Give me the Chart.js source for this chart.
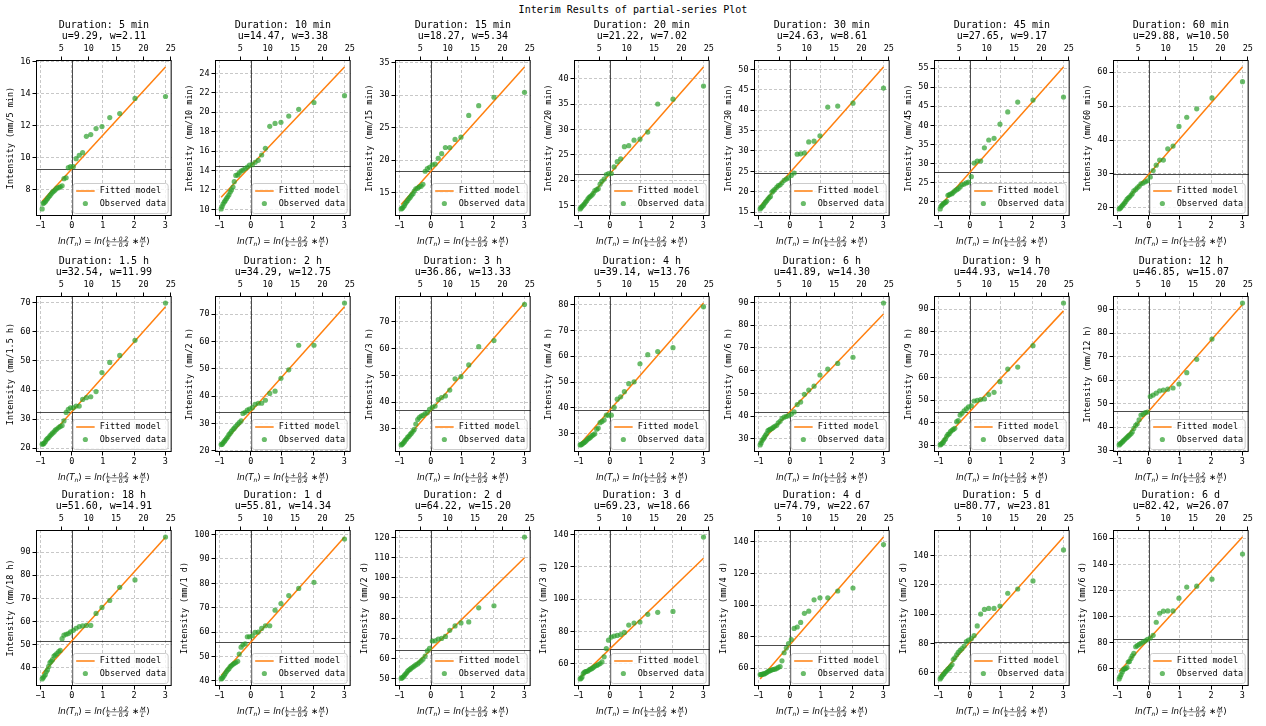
<!DOCTYPE html>
<html>
<head>
<meta charset="utf-8">
<script src="https://cdn.jsdelivr.net/npm/chart.js@4.4.0/dist/chart.umd.min.js"></script>
<style>
  body { margin: 0; background: #fff; }
  #fig { position: relative; width: 1266px; height: 726px; overflow: hidden; }
  #suptitle { position: absolute; left: 0; top: 4px; width: 1266px; line-height: 12px;
              text-align: center; font: 10px "DejaVu Sans Mono"; color: #000; }
  canvas { position: absolute; }
</style>
</head>
<body>
<div id="fig"><div id="suptitle">Interim Results of partial-series Plot</div></div>
<script>
// durations and fitted parameters (from subplot titles)
const durations = ["5 min", "10 min", "15 min", "20 min", "30 min", "45 min", "60 min",
  "1.5 h", "2 h", "3 h", "4 h", "6 h", "9 h", "12 h",
  "18 h", "1 d", "2 d", "3 d", "4 d", "5 d", "6 d"];
const uVals = [9.29, 14.47, 18.27, 21.22, 24.63, 27.65, 29.88, 32.54, 34.29, 36.86, 39.14,
  41.89, 44.93, 46.85, 51.60, 55.81, 64.22, 69.23, 74.79, 80.77, 82.42];
const wVals = [2.11, 3.38, 5.34, 7.02, 8.61, 9.17, 10.50, 11.99, 12.75, 13.33, 13.76,
  14.30, 14.70, 15.07, 14.91, 14.34, 15.20, 18.66, 22.67, 23.81, 26.07];

// tick labels
const xTicks = [-1, 0, 1, 2, 3];
const topTicks = [5, 10, 15, 20, 25];
const topRange = [0.37, 25.15];
const yStep = [2, 2, 5, 5, 5, 5, 10, 10, 10, 10, 10, 10, 10, 10, 10, 10, 10, 20, 20, 20, 20];

// ln(T) of each ranked event (same for every duration)
const xObs = [3.01, 2.03, 1.54, 1.22, 0.97, 0.78, 0.61, 0.47, 0.35, 0.24, 0.14, 0.05, -0.04,
  -0.11, -0.18, -0.25, -0.31, -0.37, -0.42, -0.48, -0.53, -0.57, -0.62, -0.66, -0.70,
  -0.74, -0.78, -0.82, -0.85, -0.89, -0.92, -0.95];

// observed intensities, ranked from largest
const obs5min = [13.81, 13.69, 12.75, 12.5, 11.94, 11.81, 11.44, 11.33, 10.31, 10.15, 9.94, 9.44, 9.44, 9.38, 8.75, 8.69, 8.25, 8.19, 8.13, 8.1, 8.0, 7.92, 7.85, 7.75, 7.65, 7.55, 7.45, 7.35, 7.25, 7.2, 7.15, 6.81];
const obs10min = [21.7, 21.0, 20.3, 19.6, 18.96, 18.85, 18.55, 16.28, 15.6, 15.05, 14.85, 14.6, 14.55, 14.35, 14.2, 14.05, 13.95, 13.75, 13.55, 13.5, 12.85, 12.3, 12.0, 11.8, 11.5, 11.3, 11.1, 10.9, 10.75, 10.55, 10.3, 10.05];
const obs15min = [30.46, 29.7, 28.4, 26.9, 23.55, 23.2, 21.96, 21.96, 21.0, 20.3, 19.4, 19.3, 18.9, 18.7, 18.3, 16.3, 16.0, 15.9, 15.7, 15.6, 15.25, 14.85, 14.6, 14.3, 14.1, 13.8, 13.55, 13.3, 13.0, 12.75, 12.6, 12.5];
const obs20min = [38.6, 36.0, 35.05, 29.5, 28.1, 27.9, 26.8, 26.6, 24.2, 23.65, 22.6, 21.3, 21.3, 21.1, 20.2, 19.75, 19.2, 18.3, 18.1, 17.9, 17.4, 17.05, 16.8, 16.6, 16.3, 15.9, 15.6, 15.25, 15.0, 14.8, 14.55, 14.3];
const obs30min = [45.4, 41.7, 41.0, 40.75, 33.7, 32.4, 32.2, 29.5, 29.3, 29.2, 24.6, 24.0, 23.4, 23.1, 22.8, 22.2, 21.7, 21.5, 21.1, 20.6, 20.2, 19.9, 18.85, 18.6, 18.2, 17.8, 17.45, 17.05, 16.6, 16.3, 16.1, 15.8];
const obs45min = [47.4, 46.6, 46.1, 43.5, 40.3, 36.6, 36.15, 34.1, 30.65, 30.65, 30.1, 26.55, 25.1, 24.9, 24.6, 24.4, 23.85, 23.4, 23.15, 22.8, 22.45, 22.1, 22.0, 21.8, 21.65, 20.1, 19.8, 19.65, 19.4, 19.1, 18.8, 18.1];
const obs60min = [57.2, 52.4, 49.2, 46.7, 44.0, 38.2, 37.4, 34.1, 34.1, 32.6, 31.0, 29.1, 28.0, 27.7, 27.3, 27.1, 26.4, 25.9, 25.4, 25.0, 24.2, 23.7, 23.2, 22.9, 22.5, 21.9, 21.4, 21.0, 20.6, 20.2, 19.9, 19.7];
const obs1_5h = [69.9, 57.1, 51.9, 49.5, 46.0, 39.5, 37.7, 37.4, 36.8, 34.5, 34.5, 33.9, 33.9, 33.4, 32.3, 29.4, 27.8, 27.5, 27.1, 26.6, 26.2, 25.6, 25.2, 24.7, 24.3, 23.7, 23.3, 22.9, 22.2, 21.7, 21.5, 21.4];
const obs2h = [74.0, 58.6, 58.6, 49.6, 46.5, 41.8, 41.0, 38.5, 37.4, 37.4, 37.0, 35.8, 35.3, 34.9, 34.1, 33.7, 31.0, 30.3, 29.7, 29.0, 28.3, 27.8, 27.1, 26.4, 25.9, 25.1, 24.5, 23.9, 23.4, 22.9, 22.4, 22.3];
const obs3h = [76.5, 63.0, 60.7, 53.9, 49.5, 48.7, 44.5, 42.3, 41.7, 40.9, 38.5, 38.0, 37.3, 36.0, 35.7, 35.0, 34.8, 34.2, 33.5, 31.8, 29.8, 29.1, 28.4, 27.9, 27.2, 26.9, 26.2, 25.7, 25.1, 24.6, 24.2, 24.0];
const obs4h = [79.1, 63.3, 61.8, 60.6, 57.1, 50.1, 49.4, 46.3, 44.3, 43.4, 40.2, 37.2, 37.2, 37.2, 35.3, 34.8, 34.3, 32.2, 31.8, 30.0, 29.6, 29.2, 28.7, 28.3, 28.0, 27.5, 27.0, 26.6, 26.4, 26.1, 25.8, 25.7];
const obs6h = [89.7, 65.9, 63.2, 60.7, 58.1, 53.2, 51.5, 49.6, 46.2, 45.1, 41.9, 40.9, 40.3, 39.9, 39.6, 39.0, 37.8, 37.1, 36.0, 35.6, 35.1, 34.6, 34.3, 34.0, 33.7, 32.4, 31.6, 30.7, 30.0, 29.3, 28.2, 27.4];
const obs9h = [92.6, 73.9, 64.5, 63.6, 58.1, 53.4, 52.4, 50.5, 50.2, 49.9, 49.6, 47.5, 47.0, 46.1, 45.3, 44.2, 43.4, 41.0, 40.5, 37.6, 37.1, 36.7, 36.1, 35.2, 34.9, 34.1, 32.9, 32.3, 31.4, 31.0, 30.6, 30.3];
const obs12h = [92.8, 77.5, 68.9, 63.2, 58.4, 56.7, 56.2, 55.8, 55.5, 54.5, 53.7, 53.1, 46.5, 46.2, 45.5, 45.2, 43.2, 41.5, 40.8, 39.5, 38.0, 37.2, 36.7, 36.2, 35.7, 35.2, 34.7, 34.2, 33.7, 33.3, 32.9, 32.5];
const obs18h = [96.5, 78.0, 74.8, 69.1, 66.1, 63.5, 58.3, 58.3, 58.1, 57.8, 57.1, 56.2, 55.5, 54.8, 54.5, 54.1, 52.6, 47.5, 47.0, 46.1, 45.5, 45.1, 43.5, 42.8, 42.2, 40.6, 39.1, 38.3, 37.0, 36.3, 35.7, 35.2];
const obs1d = [98.2, 80.4, 77.9, 75.0, 71.7, 69.0, 62.6, 62.6, 61.5, 60.0, 59.9, 58.5, 58.1, 58.1, 55.2, 54.8, 53.8, 51.0, 48.0, 47.5, 47.2, 46.8, 46.3, 45.8, 45.0, 44.5, 43.8, 43.0, 42.3, 41.6, 41.1, 40.8];
const obs2d = [120.2, 86.1, 85.1, 78.1, 77.6, 76.1, 73.9, 70.9, 69.9, 69.6, 68.7, 68.6, 64.9, 63.7, 61.1, 59.6, 58.7, 57.9, 57.2, 56.7, 56.2, 55.7, 55.2, 54.6, 54.2, 53.6, 52.7, 52.1, 51.4, 50.7, 50.4, 50.0];
const obs3d = [138.5, 92.5, 91.9, 90.7, 85.9, 85.3, 84.0, 79.5, 78.2, 77.6, 77.2, 76.6, 74.7, 69.5, 64.4, 61.2, 60.2, 59.6, 59.0, 58.5, 57.7, 57.1, 56.7, 56.3, 55.6, 55.4, 55.2, 54.8, 54.0, 51.9, 51.1, 50.7];
const obs4d = [138.3, 110.8, 108.9, 104.6, 104.6, 103.3, 96.1, 94.8, 89.0, 86.1, 85.2, 78.2, 75.6, 72.8, 69.8, 64.7, 61.1, 60.5, 59.8, 59.4, 59.2, 59.0, 58.5, 58.3, 57.9, 57.3, 56.8, 56.4, 56.4, 56.2, 56.0, 56.0];
const obs5d = [143.7, 122.6, 117.1, 114.2, 105.5, 103.9, 103.9, 103.2, 100.0, 92.0, 85.4, 83.3, 82.4, 81.3, 78.3, 76.5, 75.3, 73.9, 72.3, 70.3, 69.1, 65.7, 64.3, 63.2, 62.5, 61.4, 60.7, 59.5, 58.9, 57.7, 56.8, 55.9];
const obs6d = [147.9, 128.6, 123.2, 122.5, 114.0, 104.2, 104.2, 104.0, 102.4, 95.5, 85.5, 83.4, 82.4, 81.3, 80.3, 79.3, 78.5, 77.5, 76.7, 71.6, 69.8, 67.7, 65.4, 64.9, 60.8, 60.0, 59.7, 59.2, 57.4, 55.4, 53.6, 52.0];

const observed = [obs5min, obs10min, obs15min, obs20min, obs30min, obs45min, obs60min,
  obs1_5h, obs2h, obs3h, obs4h, obs6h, obs9h, obs12h,
  obs18h, obs1d, obs2d, obs3d, obs4d, obs5d, obs6d];

// layout of the 3x7 grid (axes boxes)
const colLeft = [36, 215, 395, 574, 754, 934, 1113];
const rowTop = [60, 296, 530];
const AX_W = 137, AX_H = 156;
const PAD_L = 36, PAD_T = 45, PAD_B = 35, PAD_R = 6;

const MONO = '"DejaVu Sans Mono"';
const GREEN = "rgba(44,160,44,0.7)";
const ORANGE = "#ff7f0e";
const GRID = "rgba(176,176,176,0.7)";

Chart.defaults.font.family = MONO;
Chart.defaults.color = "#000";

function drawXLabel(ctx, cx, cy) {
  const fMain = 'italic 8.6px "DejaVu Sans"';
  const fUp = '8.6px "DejaVu Sans"';
  const fSmall = 'italic 6px "DejaVu Sans"';
  const parts = [
    { t: "ln(", f: fMain }, { t: "T", f: fMain }, { t: "n", f: fSmall, dy: 1.9 },
    { t: ")", f: fUp }, { t: " = ", f: fUp }, { t: "ln(", f: fMain },
    { num: "L + 0.2", den: "k − 0.4" }, { t: " ∗", f: fUp }, { num: "M", den: "L" },
    { t: ")", f: fUp }
  ];
  ctx.save();
  let total = 0;
  parts.forEach(p => {
    if (p.num) {
      ctx.font = fSmall;
      p.w = Math.max(ctx.measureText(p.num).width, ctx.measureText(p.den).width) + 2;
    } else {
      ctx.font = p.f;
      p.w = ctx.measureText(p.t).width;
    }
    total += p.w;
  });
  let x = cx - total / 2;
  const base = cy + 3.1;
  ctx.fillStyle = "#000";
  ctx.strokeStyle = "#000";
  ctx.textBaseline = "alphabetic";
  parts.forEach(p => {
    if (p.num) {
      const bar = base - 2.6;
      ctx.font = fSmall;
      ctx.textAlign = "center";
      ctx.fillText(p.num, x + p.w / 2, bar - 1.3);
      ctx.fillText(p.den, x + p.w / 2, bar + 5.6);
      ctx.lineWidth = 0.5;
      ctx.beginPath();
      ctx.moveTo(x + 0.5, bar);
      ctx.lineTo(x + p.w - 0.5, bar);
      ctx.stroke();
    } else {
      ctx.font = p.f;
      ctx.textAlign = "left";
      ctx.fillText(p.t, x, base + (p.dy || 0));
    }
    x += p.w;
  });
  ctx.restore();
}

const panelDecor = {
  id: "panelDecor",
  beforeDatasetsDraw(chart, args, opts) {
    const { ctx, chartArea: a, scales } = chart;
    const yu = Math.round(scales.y.getPixelForValue(opts.u)) + 0.5;
    const x0 = Math.round(scales.x.getPixelForValue(0)) + 0.5;
    ctx.save();
    ctx.strokeStyle = "rgba(0,0,0,0.7)";
    ctx.lineWidth = 1;
    ctx.beginPath();
    ctx.moveTo(a.left, yu);
    ctx.lineTo(a.right, yu);
    ctx.moveTo(x0, a.top);
    ctx.lineTo(x0, a.bottom);
    ctx.stroke();
    ctx.restore();
  },
  afterDraw(chart, args, opts) {
    const { ctx, chartArea: a, scales } = chart;
    const cx = (a.left + a.right) / 2;
    ctx.save();
    // frame
    ctx.strokeStyle = "#000";
    ctx.lineWidth = 1;
    ctx.strokeRect(a.left + 0.5, a.top + 0.5, a.right - a.left - 1, a.bottom - a.top - 1);

    // titles
    ctx.fillStyle = "#000";
    ctx.textAlign = "center";
    ctx.textBaseline = "middle";
    ctx.font = "10px " + MONO;
    ctx.fillText("Duration: " + opts.dur, cx, a.top - 34.3);
    ctx.fillText("u=" + opts.u.toFixed(2) + ", w=" + opts.w.toFixed(2), cx, a.top - 23.6);

    // y label
    ctx.font = "8.5px " + MONO;
    let tw = 0;
    scales.y.ticks.forEach(t => { tw = Math.max(tw, ctx.measureText(String(t.value)).width); });
    ctx.save();
    ctx.translate(a.left - tw - 14.5, (a.top + a.bottom) / 2);
    ctx.rotate(-Math.PI / 2);
    ctx.fillText("Intensity (mm/" + opts.dur + ")", 0, 0);
    ctx.restore();

    // x label
    drawXLabel(ctx, cx, a.bottom + 25.3);

    // legend
    const bw = 95, bh = 30;
    const bx = a.right - 4 - bw, by = a.bottom - 3 - bh;
    ctx.beginPath();
    if (ctx.roundRect) ctx.roundRect(bx + 0.5, by + 0.5, bw, bh, 2.5);
    else ctx.rect(bx + 0.5, by + 0.5, bw, bh);
    ctx.fillStyle = "rgba(255,255,255,0.8)";
    ctx.fill();
    ctx.strokeStyle = "#cccccc";
    ctx.stroke();
    ctx.strokeStyle = ORANGE;
    ctx.lineWidth = 1.5;
    ctx.beginPath();
    ctx.moveTo(bx + 3.5, by + 8);
    ctx.lineTo(bx + 22, by + 8);
    ctx.stroke();
    ctx.fillStyle = GREEN;
    ctx.beginPath();
    ctx.arc(bx + 12.7, by + 20.5, 2.6, 0, Math.PI * 2);
    ctx.fill();
    ctx.fillStyle = "#000";
    ctx.textAlign = "left";
    ctx.font = "8.5px " + MONO;
    ctx.fillText("Fitted model", bx + 27, by + 8);
    ctx.fillText("Observed data", bx + 27, by + 20.5);
    ctx.restore();
  }
};

const fig = document.getElementById("fig");
const xLo = Math.min(...xObs), xHi = Math.max(...xObs);
const xPad = 0.05 * (xHi - xLo);

durations.forEach((dur, i) => {
  const r = Math.floor(i / 7), c = i % 7;
  const cv = document.createElement("canvas");
  const W = PAD_L + AX_W + PAD_R, H = PAD_T + AX_H + PAD_B;
  cv.width = W; cv.height = H;
  cv.style.left = (colLeft[c] - PAD_L) + "px";
  cv.style.top = (rowTop[r] - PAD_T) + "px";
  cv.style.width = W + "px"; cv.style.height = H + "px";
  fig.appendChild(cv);

  const u = uVals[i], w = wVals[i];
  const pts = xObs.map((x, k) => ({ x: x, y: observed[i][k] }));
  const fit = [{ x: xLo, y: u + w * xLo }, { x: xHi, y: u + w * xHi }];
  const allY = observed[i].concat(fit.map(p => p.y));
  const yLo = Math.min(...allY), yHi = Math.max(...allY);
  const yPad = 0.05 * (yHi - yLo);
  const yMin = yLo - yPad, yMax = yHi + yPad;
  const step = yStep[i];
  const yT = [];
  for (let v = Math.ceil(yMin / step) * step; v <= yMax + 1e-9; v += step) yT.push(v);

  const tickFont = { size: 8.5, family: MONO };

  new Chart(cv, {
    data: {
      datasets: [
        { type: "scatter", label: "Observed data", data: pts, backgroundColor: GREEN,
          borderWidth: 0, pointRadius: 2.6, pointHoverRadius: 2.6 },
        { type: "line", label: "Fitted model", data: fit, borderColor: ORANGE,
          borderWidth: 1.5, pointRadius: 0, fill: false }
      ]
    },
    options: {
      responsive: false,
      animation: false,
      devicePixelRatio: 1,
      events: [],
      layout: { padding: { left: 0, right: PAD_R, top: 0, bottom: 0 } },
      plugins: {
        legend: { display: false },
        tooltip: { enabled: false },
        panelDecor: { u: u, w: w, dur: dur }
      },
      scales: {
        x: {
          type: "linear", position: "bottom", min: xLo - xPad, max: xHi + xPad,
          afterBuildTicks: s => { s.ticks = xTicks.map(v => ({ value: v })); },
          afterFit: s => { s.height = PAD_B; },
          ticks: { font: tickFont, color: "#000", padding: 1,
                   callback: v => String(v).replace("-", "−") },
          grid: { color: GRID, tickColor: "#000", tickLength: 3.5, tickBorderDash: [] },
          border: { display: false, dash: [3, 2] }
        },
        x2: {
          type: "linear", position: "top", min: topRange[0], max: topRange[1],
          afterBuildTicks: s => { s.ticks = topTicks.map(v => ({ value: v })); },
          afterFit: s => { s.height = PAD_T; },
          ticks: { font: tickFont, color: "#000", padding: 3 },
          grid: { drawOnChartArea: false, tickColor: "#000", tickLength: 3.5 },
          border: { display: false }
        },
        y: {
          type: "linear", position: "left", min: yMin, max: yMax,
          afterBuildTicks: s => { s.ticks = yT.map(v => ({ value: v })); },
          afterFit: s => { s.width = PAD_L; },
          ticks: { font: tickFont, color: "#000", padding: 2 },
          grid: { color: GRID, tickColor: "#000", tickLength: 3.5, tickBorderDash: [] },
          border: { display: false, dash: [3, 2] }
        }
      }
    },
    plugins: [panelDecor]
  });
});
</script>
</body>
</html>
